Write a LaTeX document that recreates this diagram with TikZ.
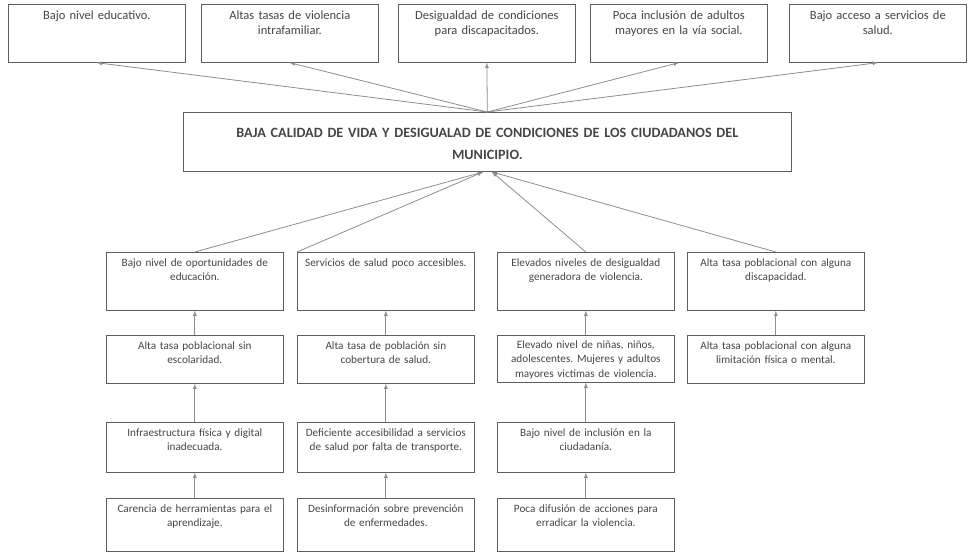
\documentclass[tikz,border=0pt]{standalone}
\usepackage{fontspec}
\setmainfont{Carlito}
\usepackage{tikz}
\usetikzlibrary{arrows}
\definecolor{linegray}{HTML}{8E8E8E}
\definecolor{boxgray}{HTML}{5E5E5E}
\definecolor{textgray}{HTML}{454545}
\frenchspacing

\begin{document}
\begin{tikzpicture}[x=1pt,y=-1pt,
  efecto/.style={draw=boxgray,line width=.7pt,anchor=north west,inner xsep=3pt,inner ysep=0pt,
    text width=171pt,align=center,text=textgray,font=\fontsize{12.5}{15}\selectfont,
    text height=15pt,text depth=43pt},
  problema/.style={draw=boxgray,line width=.7pt,anchor=north west,inner xsep=3pt,inner ysep=0pt,
    text width=602pt,align=center,text=textgray,font=\fontsize{14.2}{22}\selectfont\bfseries,
    text height=25pt,text depth=34pt},
  causa/.style={draw=boxgray,line width=.7pt,anchor=north west,inner xsep=3pt,inner ysep=0pt,
    text width=171pt,align=center,text=textgray,font=\fontsize{11.2}{14.5}\selectfont,
    text height=14pt,text depth=#1},
  flecha/.style={draw=linegray,line width=.8pt,->,>=latex}]
  \useasboundingbox (0,0) rectangle (969,555);

  \node[efecto] (e1) at (8,4) {Bajo nivel educativo.};
  \node[efecto] (e2) at (201,4) {Altas tasas de violencia\\ intrafamiliar.};
  \node[efecto] (e3) at (398,4) {Desigualdad de condiciones\\ para discapacitados.};
  \node[efecto] (e4) at (590,4) {Poca inclusión de adultos\\ mayores en la vía social.};
  \node[efecto] (e5) at (789,4) {Bajo acceso a servicios de\\ salud.};

  \node[problema] (p) at (183,112) {BAJA CALIDAD DE VIDA Y DESIGUALAD DE CONDICIONES DE LOS CIUDADANOS DEL\\ MUNICIPIO.};

  \node[causa=44pt] (a1) at (106,252) {Bajo nivel de oportunidades de\\ educación.};
  \node[causa=44pt] (a2) at (297,252) {Servicios de salud poco accesibles.};
  \node[causa=44pt] (a3) at (497,252) {Elevados niveles de desigualdad\\ generadora de violencia.};
  \node[causa=44pt] (a4) at (687,252) {Alta tasa poblacional con alguna\\ discapacidad.};

  \node[causa=34pt] (b1) at (106,335) {Alta tasa poblacional sin\\ escolaridad.};
  \node[causa=34pt] (b2) at (297,335) {Alta tasa de población sin\\ cobertura de salud.};
  \node[causa=34pt,text height=13pt] (b3) at (497,335) {Elevado nivel de niñas, niños,\\ adolescentes. Mujeres y adultos\\ mayores victimas de violencia.};
  \node[causa=34pt] (b4) at (687,335) {Alta tasa poblacional con alguna\\ limitación física o mental.};

  \node[causa=36pt] (c1) at (106,422) {Infraestructura física y digital\\ inadecuada.};
  \node[causa=36pt] (c2) at (297,422) {Deficiente accesibilidad a servicios\\ de salud por falta de transporte.};
  \node[causa=36pt] (c3) at (497,422) {Bajo nivel de inclusión en la\\ ciudadanía.};

  \node[causa=39pt] (d1) at (106,498) {Carencia de herramientas para el\\ aprendizaje.};
  \node[causa=39pt] (d2) at (297,498) {Desinformación sobre prevención\\ de enfermedades.};
  \node[causa=39pt] (d3) at (497,498) {Poca difusión de acciones para\\ erradicar la violencia.};

  \coordinate (pl) at (483,172);
  \coordinate (pr) at (492,172);

  \draw[flecha] (p.north) -- (e1.south);
  \draw[flecha] (p.north) -- (e2.south);
  \draw[flecha] (p.north) -- (e3.south);
  \draw[flecha] (p.north) -- (e4.south);
  \draw[flecha] (p.north) -- (e5.south);

  \draw[flecha] (a1.north) -- (pl);
  \draw[flecha] (a2.north west) -- (pl);
  \draw[flecha] (a3.north) -- (pr);
  \draw[flecha] (a4.north) -- (pr);

  \draw[flecha] (b1.north) -- (a1.south);
  \draw[flecha] (b2.north) -- (a2.south);
  \draw[flecha] (b3.north) -- (a3.south);
  \draw[flecha] (b4.north) -- (a4.south);
  \draw[flecha] (c1.north) -- (b1.south);
  \draw[flecha] (c2.north) -- (b2.south);
  \draw[flecha] (c3.north) -- (b3.south);
  \draw[flecha] (d1.north) -- (c1.south);
  \draw[flecha] (d2.north) -- (c2.south);
  \draw[flecha] (d3.north) -- (c3.south);
\end{tikzpicture}
\end{document}
